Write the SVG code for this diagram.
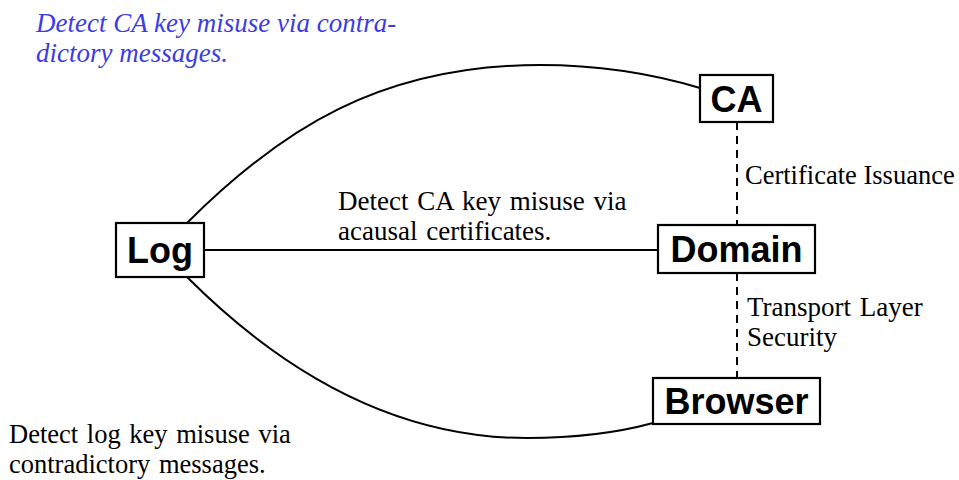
<svg xmlns="http://www.w3.org/2000/svg" width="959" height="480" viewBox="0 0 959 480">
<style>
.box{fill:#fff;stroke:#000;stroke-width:2.2}
.lbl{font-family:"Liberation Sans",Arial,sans-serif;font-weight:bold;font-size:36px;fill:#000}
.t{font-family:"Liberation Serif","Times New Roman",serif;font-size:27px;fill:#000;word-spacing:2px}
.bt{font-family:"Liberation Serif","Times New Roman",serif;font-style:italic;font-size:27px;fill:#3c3ce4}
.ln{fill:none;stroke:#000;stroke-width:2}
.dash{fill:none;stroke:#000;stroke-width:2;stroke-dasharray:8,6}
</style>
<g id="connectors">
<path class="ln" d="M187 223 C280 130, 380 65, 540 65 C610 65, 660 76, 700 88"/>
<path class="ln" d="M187 277 C287 377, 400 438, 527 438 C580 438, 620 432, 653 423"/>
<line class="ln" x1="204" y1="250" x2="658" y2="250"/>
<line class="dash" x1="737" y1="122" x2="737" y2="225"/>
<line class="dash" x1="737" y1="273" x2="737" y2="378"/>
</g>
<g id="ca"><rect class="box" x="700" y="75" width="73" height="47"/><text class="lbl" x="736.5" y="112" text-anchor="middle">CA</text></g>
<g id="log"><rect class="box" x="116" y="223" width="88" height="54"/><text class="lbl" x="160" y="263" text-anchor="middle">Log</text></g>
<g id="domain"><rect class="box" x="658" y="225" width="157" height="48"/><text class="lbl" x="736.5" y="262" text-anchor="middle">Domain</text></g>
<g id="browser"><rect class="box" x="653" y="378" width="167" height="46"/><text class="lbl" x="736.5" y="414" text-anchor="middle">Browser</text></g>
<g id="labels">
<text class="bt" x="36" y="32">Detect CA key misuse via contra-</text>
<text class="bt" x="36" y="62">dictory messages.</text>
<text class="t" x="745" y="184" style="word-spacing:0;font-size:26.5px">Certificate Issuance</text>
<text class="t" x="338" y="210">Detect CA key misuse via</text>
<text class="t" x="338" y="240">acausal certificates.</text>
<text class="t" x="747" y="316">Transport Layer</text>
<text class="t" x="747" y="346">Security</text>
<text class="t" x="9" y="443" style="font-size:26.5px">Detect log key misuse via</text>
<text class="t" x="9" y="473" style="font-size:26.5px">contradictory messages.</text>
</g>
</svg>
